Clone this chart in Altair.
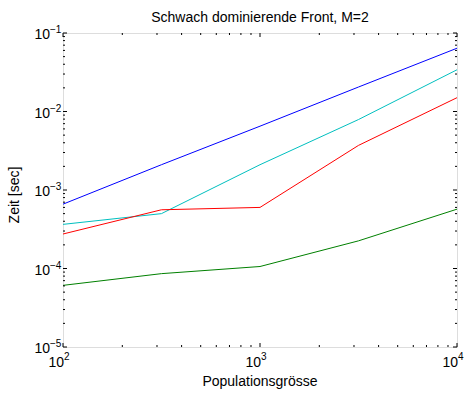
import math
import altair as alt
import pandas as pd

# Population sizes and measured run times (seconds) for each series
pop_sizes = [100, 316, 1000, 3162, 10000]
t_blue = [6.6e-4, 2.1e-3, 6.5e-3, 2.05e-2, 6.4e-2]
t_cyan = [3.65e-4, 5.0e-4, 2.1e-3, 7.9e-3, 3.4e-2]
t_red = [2.75e-4, 5.6e-4, 6.0e-4, 3.7e-3, 1.5e-2]
t_green = [6.1e-5, 8.6e-5, 1.06e-4, 2.25e-4, 5.7e-4]

series_names = ["blue", "cyan", "red", "green"]
series_colors = ["#0000ff", "#00bfbf", "#ff0000", "#008000"]

# Axis tick positions; labels are drawn as "10" with a raised exponent
x_major = [100, 1000, 10000]
y_major = [1e-5, 1e-4, 1e-3, 1e-2, 1e-1]
x_minor = [m * d for d in (100, 1000) for m in range(2, 10)]
y_minor = [m * d for d in (1e-5, 1e-4, 1e-3, 1e-2) for m in range(2, 10)]

TITLE = "Schwach dominierende Front, M=2"
X_TITLE = "Populationsgrösse"
Y_TITLE = "Zeit [sec]"

W, H = 394, 314
FONT = "Liberation Sans"
FS = 14
FS_EXP = 10

rows = []
for name, vals in zip(series_names, [t_blue, t_cyan, t_red, t_green]):
    for x, y in zip(pop_sizes, vals):
        rows.append({"series": name, "n": x, "t": y})
df = pd.DataFrame(rows)

xscale = alt.Scale(type="log", domain=[100, 10000], nice=False)
yscale = alt.Scale(type="log", domain=[1e-5, 1e-1], nice=False)


def exponent_text(v):
    e = int(round(math.log10(v)))
    return ("\u2212" if e < 0 else "") + str(abs(e))


lines = alt.Chart(df).mark_line(strokeWidth=1, clip=True).encode(
    x=alt.X("n:Q", scale=xscale, axis=None),
    y=alt.Y("t:Q", scale=yscale, axis=None),
    color=alt.Color("series:N", scale=alt.Scale(domain=series_names, range=series_colors), legend=None),
    detail="series:N",
)

# Inward-pointing ticks on all four sides of the frame
xt = pd.DataFrame({"v": x_major + x_minor, "len": [4] * len(x_major) + [2] * len(x_minor)})
yt = pd.DataFrame({"v": y_major + y_minor, "len": [4] * len(y_major) + [2] * len(y_minor)})
tick_style = dict(color="black", strokeWidth=1)

bottom_ticks = alt.Chart(xt).transform_calculate(y0=f"{H}", y1=f"{H} - datum.len").mark_rule(**tick_style).encode(
    x=alt.X("v:Q", scale=xscale), y=alt.Y("y0:Q", scale=None), y2="y1:Q"
)
top_ticks = alt.Chart(xt).transform_calculate(y0="0", y1="datum.len").mark_rule(**tick_style).encode(
    x=alt.X("v:Q", scale=xscale), y=alt.Y("y0:Q", scale=None), y2="y1:Q"
)
left_ticks = alt.Chart(yt).transform_calculate(x0="0", x1="datum.len").mark_rule(**tick_style).encode(
    y=alt.Y("v:Q", scale=yscale), x=alt.X("x0:Q", scale=None), x2="x1:Q"
)
right_ticks = alt.Chart(yt).transform_calculate(x0=f"{W}", x1=f"{W} - datum.len").mark_rule(**tick_style).encode(
    y=alt.Y("v:Q", scale=yscale), x=alt.X("x0:Q", scale=None), x2="x1:Q"
)

# Tick labels: base "10" plus superscript exponent
xl = pd.DataFrame({"v": x_major, "base": ["10"] * len(x_major), "exp": [exponent_text(v) for v in x_major]})
yl = pd.DataFrame({"v": y_major, "base": ["10"] * len(y_major), "exp": [exponent_text(v) for v in y_major]})
txt = dict(font=FONT, color="black", baseline="middle")

x_base = alt.Chart(xl).mark_text(fontSize=FS, align="right", dx=1, **txt).encode(
    x=alt.X("v:Q", scale=xscale), y=alt.value(H + 16), text="base:N"
)
x_exp = alt.Chart(xl).mark_text(fontSize=FS_EXP, align="left", dx=1, **txt).encode(
    x=alt.X("v:Q", scale=xscale), y=alt.value(H + 10), text="exp:N"
)
y_base = alt.Chart(yl).mark_text(fontSize=FS, align="right", dy=2, **txt).encode(
    y=alt.Y("v:Q", scale=yscale), x=alt.value(-13), text="base:N"
)
y_exp = alt.Chart(yl).mark_text(fontSize=FS_EXP, align="left", dy=-3, **txt).encode(
    y=alt.Y("v:Q", scale=yscale), x=alt.value(-13), text="exp:N"
)

labels = pd.DataFrame({"title": [TITLE], "xt": [X_TITLE], "yt": [Y_TITLE]})
title_mark = alt.Chart(labels).mark_text(fontSize=FS, align="center", baseline="alphabetic", font=FONT, color="black").encode(
    x=alt.value(W / 2), y=alt.value(-11), text="title:N"
)
x_title = alt.Chart(labels).mark_text(fontSize=FS, align="center", **txt).encode(
    x=alt.value(W / 2), y=alt.value(H + 35), text="xt:N"
)
y_title = alt.Chart(labels).mark_text(fontSize=FS, align="center", angle=270, **txt).encode(
    x=alt.value(-48), y=alt.value(H / 2 + 5), text="yt:N"
)

chart = alt.layer(
    lines, bottom_ticks, top_ticks, left_ticks, right_ticks,
    x_base, x_exp, y_base, y_exp, title_mark, x_title, y_title,
).properties(
    width=W, height=H,
    autosize=alt.AutoSizeParams(type="none"),
    padding={"left": 63, "top": 33, "right": 10, "bottom": 47},
).configure_view(stroke="black", strokeWidth=1.3).configure(background="white")

chart.save("out.html", embed_options={"renderer": "svg", "actions": False})
